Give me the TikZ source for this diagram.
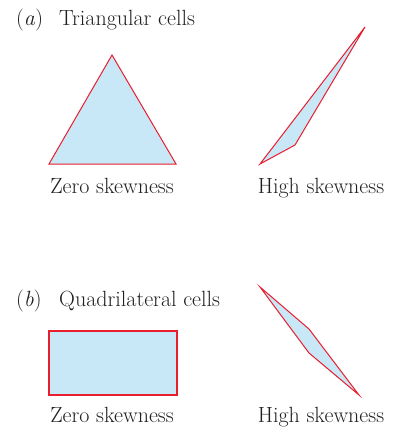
\documentclass[tikz,border=0pt]{standalone}
\definecolor{cellfill}{RGB}{200,232,248}
\definecolor{celledge}{RGB}{232,30,45}
\definecolor{txt}{RGB}{35,31,32}
\begin{document}
\begin{tikzpicture}[x=1pt,y=-1pt,
  cell/.style={fill=cellfill,draw=celledge,line width=1pt,line join=miter},
  lbl/.style={inner sep=0pt,anchor=base,font=\rmfamily\fontsize{22}{26}\selectfont,text=txt},
  head/.style={inner sep=0pt,anchor=base west,font=\rmfamily\fontsize{22}{26}\selectfont,text=txt}]
\useasboundingbox (0,0) rectangle (399,428);
% headings
\node[head] (pa) at (16,26) {(\textit{a})};
\node[head] (ta) at (59,26) {Triangular cells};
\node[head] (pb) at (16,306) {(\textit{b})};
\node[head] (tb) at (59,306) {Quadrilateral cells};
% (a) triangles
\draw[cell] (112,55) -- (176,164) -- (49,164) -- cycle;
\draw[cell] (365,27) -- (295,145) -- (260,164) -- cycle;
\node[lbl] (za) at (112,193) {Zero skewness};
\node[lbl] (ha) at (321,193) {High skewness};
% (b) quadrilaterals
\draw[cell,line width=1.3pt] (49,331) -- (177,331) -- (177,395) -- (49,395) -- cycle;
\draw[cell] (260,287) -- (309,329) -- (359,395) -- (309,353) -- cycle;
\node[lbl] (zb) at (112,422) {Zero skewness};
\node[lbl] (hb) at (321,422) {High skewness};
\end{tikzpicture}
\end{document}
